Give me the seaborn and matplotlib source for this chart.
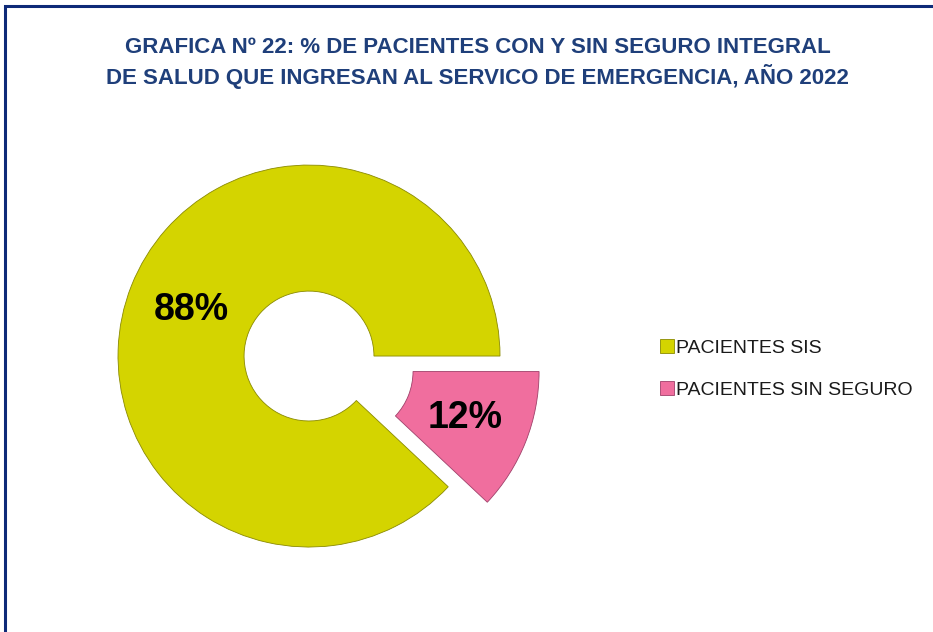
import matplotlib
matplotlib.use("Agg")
import matplotlib.pyplot as plt
import matplotlib.patches as mpatches
import seaborn as sns

# data
categories = ["PACIENTES SIS", "PACIENTES SIN SEGURO"]
values = [88, 12]
colors = ["#D4D400", "#F06E9E"]
title = ("GRAFICA Nº 22: % DE PACIENTES CON Y SIN SEGURO INTEGRAL\n"
         "DE SALUD QUE INGRESAN AL SERVICO DE EMERGENCIA, AÑO 2022")

sns.set_theme(style="white")
plt.rcParams['font.family'] = ['Liberation Sans', 'DejaVu Sans']

fig = plt.figure(figsize=(9.33, 6.32), dpi=100)

# frame around the chart (runs past right/bottom edge like the screenshot)
fig.patches.append(mpatches.Rectangle((0.005, -0.05), 1.1, 1.041, transform=fig.transFigure,
                                      fill=False, edgecolor="#0E2A78", linewidth=2.2))

fig.text(0.512, 0.9, title, ha="center", va="center", fontsize=16, fontweight="bold",
         color="#1F3F7A", linespacing=1.3)

ax = fig.add_axes([0.0753, 0.0589, 0.5118, 0.7555])
wedges, _, autotexts = ax.pie(values, colors=colors, startangle=0, counterclock=True,
                              explode=[0, 0.22], autopct="%1.0f%%", pctdistance=0.66,
                              wedgeprops=dict(width=0.66, edgecolor="#8a8a00", linewidth=0.6))
wedges[1].set_edgecolor("#a0406a")
for t in autotexts:
    t.set_fontsize(27)
    t.set_fontweight("bold")
    t.set_color("black")
ax.set_xlim(-1.25, 1.25)
ax.set_ylim(-1.25, 1.25)
ax.set_aspect("equal")

leg = fig.legend(wedges, categories, loc="center left", bbox_to_anchor=(0.699, 0.416),
                 frameon=False, fontsize=14, handlelength=0.7, handleheight=0.7,
                 handletextpad=0.15, labelspacing=1.25, borderaxespad=0)
for t in leg.get_texts():
    t.set_color("#1a1a1a")

fig.savefig("out.png", dpi=100, facecolor="white")
